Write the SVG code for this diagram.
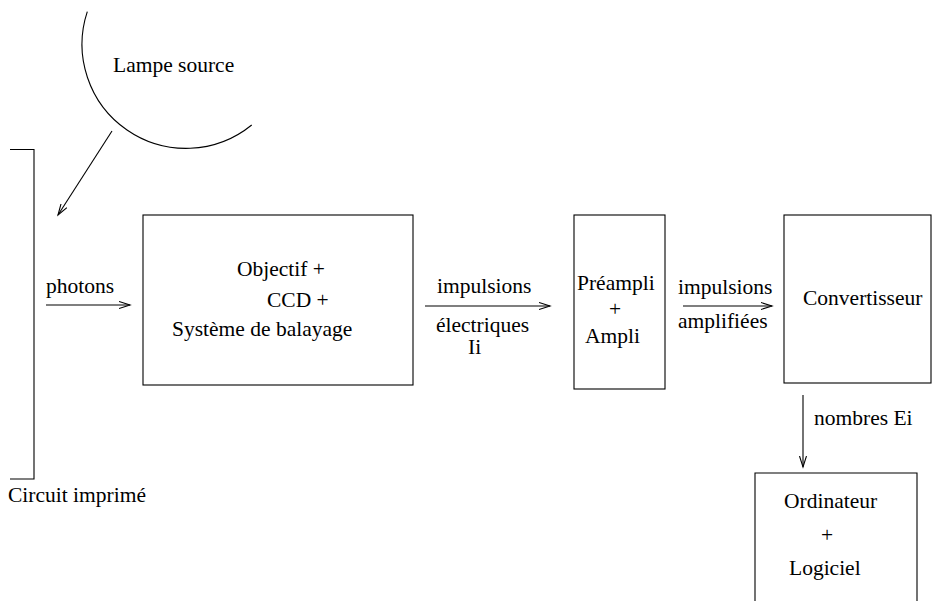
<svg xmlns="http://www.w3.org/2000/svg" width="932" height="601" viewBox="0 0 932 601">
<style>
text{font-family:"Liberation Serif","Times New Roman",serif;font-size:21.5px;fill:#000}
.s{fill:none;stroke:#000;stroke-width:1.1}
.c{fill:none;stroke:#000;stroke-width:1.1;marker-end:url(#ah)}
</style>
<defs>
<marker id="ah" markerUnits="userSpaceOnUse" markerWidth="14" markerHeight="10" refX="11" refY="4" orient="auto">
<path d="M0,0.5 L11,4 L0,7.5" fill="none" stroke="#000" stroke-width="1.1"/>
</marker>
</defs>
<rect width="932" height="601" fill="#fff"/>
<g id="lampe">
<path class="s" d="M87.3,11.7 A104,104 0 0 0 251.7,125"/>
<text x="113" y="72">Lampe source</text>
</g>
<g id="circuit">
<path class="s" d="M10,149.5 H34 V479 H10"/>
<text x="8" y="502">Circuit imprimé</text>
</g>
<g id="objectif">
<rect class="s" x="143" y="215" width="270" height="170"/>
<text x="237" y="276">Objectif +</text>
<text x="267" y="307">CCD +</text>
<text x="172" y="336">Système de balayage</text>
</g>
<g id="preampli">
<rect class="s" x="574" y="215" width="91" height="174"/>
<text x="577" y="290">Préampli</text>
<text x="615" y="316" text-anchor="middle">+</text>
<text x="585" y="343">Ampli</text>
</g>
<g id="convertisseur">
<rect class="s" x="784" y="215" width="147" height="168"/>
<text x="803" y="305">Convertisseur</text>
</g>
<g id="ordinateur">
<path class="s" d="M755,605 V473 H917 V605"/>
<text x="784" y="508">Ordinateur</text>
<text x="827" y="542" text-anchor="middle">+</text>
<text x="789" y="575">Logiciel</text>
</g>
<g id="connectors">
<line class="c" x1="112" y1="131" x2="58" y2="215"/>
<line class="c" x1="46" y1="305" x2="130" y2="305"/>
<text x="46" y="293">photons</text>
<line class="c" x1="425" y1="306" x2="550" y2="306"/>
<text x="437" y="293">impulsions</text>
<text x="436" y="332">électriques</text>
<text x="468" y="354">Ii</text>
<line class="c" x1="683" y1="306" x2="772" y2="306"/>
<text x="678" y="294">impulsions</text>
<text x="678" y="328">amplifiées</text>
<line class="c" x1="803" y1="395" x2="803" y2="467"/>
<text x="814" y="425">nombres Ei</text>
</g>
</svg>
